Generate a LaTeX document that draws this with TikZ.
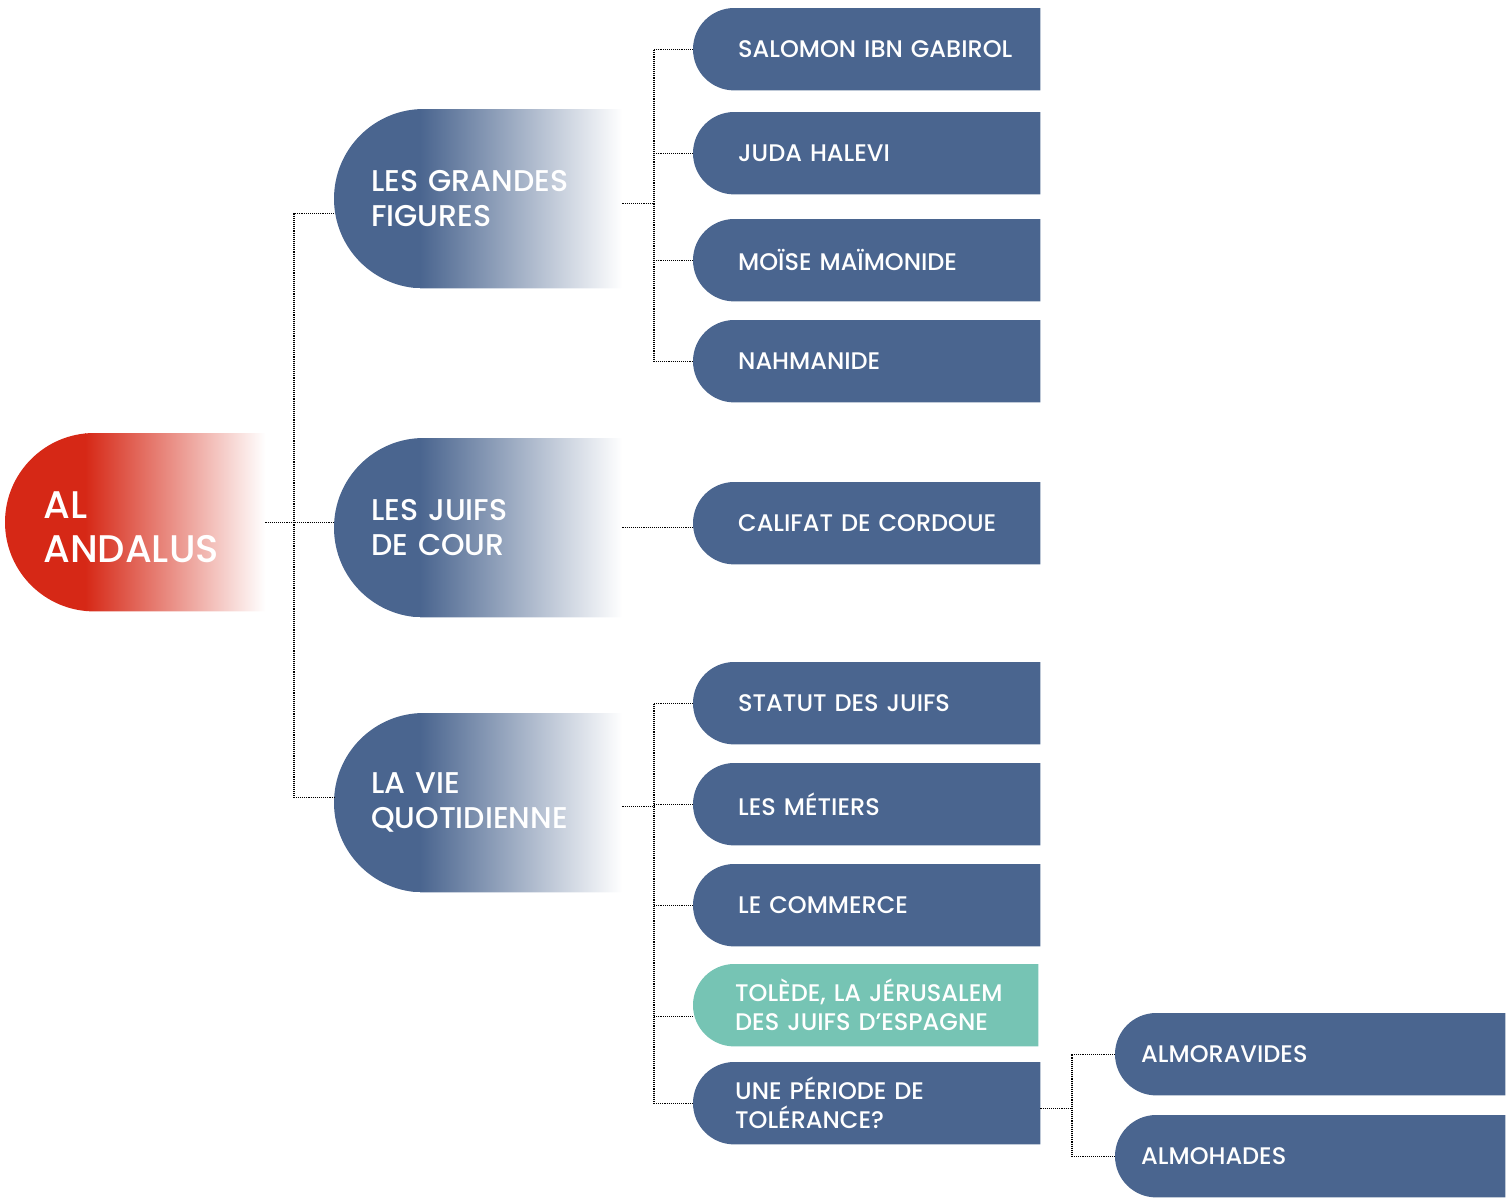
\documentclass[tikz,border=0pt]{standalone}
\usepackage{fontspec}
\setmainfont{Poppins}[UprightFont={* Medium}]
\usetikzlibrary{calc}
\definecolor{nodeblue}{RGB}{74,101,143}
\definecolor{nodeteal}{RGB}{118,196,180}
\definecolor{rootred}{RGB}{214,40,22}
\makeatletter
\pgfdeclareshape{halfpill}{%
  \inheritsavedanchors[from=rectangle]%
  \inheritanchorborder[from=rectangle]%
  \inheritanchor[from=rectangle]{center}%
  \inheritanchor[from=rectangle]{text}%
  \inheritanchor[from=rectangle]{mid}%
  \inheritanchor[from=rectangle]{base}%
  \inheritanchor[from=rectangle]{north}%
  \inheritanchor[from=rectangle]{south}%
  \inheritanchor[from=rectangle]{east}%
  \inheritanchor[from=rectangle]{west}%
  \inheritanchor[from=rectangle]{north east}%
  \inheritanchor[from=rectangle]{north west}%
  \inheritanchor[from=rectangle]{south east}%
  \inheritanchor[from=rectangle]{south west}%
  \backgroundpath{%
    \southwest \pgf@xa=\pgf@x \pgf@ya=\pgf@y
    \northeast \pgf@xb=\pgf@x \pgf@yb=\pgf@y
    \pgf@xc=\pgf@yb \advance\pgf@xc by -\pgf@ya \pgf@xc=0.5\pgf@xc
    \edef\hpR{\the\pgf@xc}%
    \edef\hpXa{\the\pgf@xa}\edef\hpYa{\the\pgf@ya}%
    \edef\hpXb{\the\pgf@xb}\edef\hpYb{\the\pgf@yb}%
    \pgfpathmoveto{\pgfpoint{\hpXb}{\hpYb}}%
    \pgfpathlineto{\pgfpoint{\hpXb}{\hpYa}}%
    \pgfpathlineto{\pgfpoint{\hpXa+\hpR}{\hpYa}}%
    \pgfpatharc{270}{90}{\hpR}%
    \pgfpathclose
  }%
}
\makeatother
\tikzset{
  pillbase/.style={shape=halfpill, inner sep=0pt, anchor=north west, align=left, text=white},
  leaf/.style={pillbase, fill=nodeblue, minimum width=347pt, minimum height=82pt,
    text width=347pt, font=\fontsize{24}{29}\selectfont,
    execute at begin node={\leftskip=45pt\relax}},
  leaftwo/.style={leaf, execute at begin node={\leftskip=42pt\relax}},
  almo/.style={pillbase, fill=nodeblue, minimum width=390pt, minimum height=82pt,
    text width=390pt, font=\fontsize{24}{29}\selectfont,
    execute at begin node={\leftskip=26pt\relax}},
  fadefill/.style 2 args={path picture={
      \fill[#1] (path picture bounding box.south west) rectangle ([xshift=#2+1pt]path picture bounding box.north west);
      \shade[left color=#1, right color=white] ([xshift=#2]path picture bounding box.south west) rectangle (path picture bounding box.north east);}},
  cat/.style={pillbase, minimum width=288pt, minimum height=179pt, text width=288pt,
    font=\fontsize{30}{35}\selectfont, fadefill={nodeblue}{86pt},
    execute at begin node={\leftskip=37pt\relax}},
  rootnode/.style={pillbase, minimum width=260pt, minimum height=178pt, text width=260pt,
    text height=37pt,
    font=\fontsize{38.5}{44}\selectfont, fadefill={rootred}{80pt},
    execute at begin node={\leftskip=38pt\relax}},
  conn/.style={draw=black, line width=1.1pt, dash pattern=on 1.1pt off 1pt}
}
\begin{document}
\begin{tikzpicture}[x=1pt,y=-1pt]
\useasboundingbox (0,0) rectangle (1509,1197);
% root
\node[rootnode] (root) at (5,433) {AL\\ANDALUS};
% categories
\node[cat] (grandes) at (334,109) {LES GRANDES\\FIGURES};
\node[cat] (juifs) at (334,438) {LES JUIFS\\DE COUR};
\node[cat] (vie) at (334,713) {LA VIE\\QUOTIDIENNE};
% leaves
\node[leaf] (sal) at (693,8) {SALOMON IBN GABIROL};
\node[leaf] (juda) at (693,112) {JUDA HALEVI};
\node[leaf] (moise) at (693,219) {MOÏSE MAÏMONIDE};
\node[leaf] (nah) at (693,320) {NAHMANIDE};
\node[leaf] (calif) at (693,482) {CALIFAT DE CORDOUE};
\node[leaf] (statut) at (693,662) {STATUT DES JUIFS};
\node[leaf] (metiers) at (693,763) {LES MÉTIERS};
\node[leaf] (commerce) at (693,864) {LE COMMERCE};
\node[leaftwo, fill=nodeteal, minimum width=345pt, text width=345pt] (tolede) at (693,964) {TOLÈDE, LA JÉRUSALEM\\DES JUIFS D’ESPAGNE};
\node[leaftwo] (tol) at (693,1062) {UNE PÉRIODE DE\\TOLÉRANCE?};
\node[almo] (almor) at (1115,1013) {ALMORAVIDES};
\node[almo] (almoh) at (1115,1115) {ALMOHADES};
% trunk coordinates
\coordinate (t0) at ([xshift=-40pt,yshift=-15pt]grandes.west);
\coordinate (t1) at ([xshift=-39pt]sal.west);
\coordinate (t2) at ([xshift=-39pt]statut.west);
\coordinate (t3) at ([xshift=-43pt]almor.west);
% connectors
\draw[conn] (root.east) -- (root.east -| juifs.west);
\draw[conn] ([yshift=-15pt]grandes.west) -- (t0) |- ([yshift=5pt]vie.west);
\draw[conn] ([yshift=-5pt]grandes.east) -- ([yshift=-5pt]grandes.east -| t1);
\draw[conn] (sal.west) -- (t1) |- (nah.west);
\draw[conn] (juda.west) -- (juda.west -| t1);
\draw[conn] (moise.west) -- (moise.west -| t1);
\draw[conn] (juifs.east) -- (juifs.east -| calif.west);
\draw[conn] ([yshift=-4pt]vie.east) -- ([yshift=-4pt]vie.east -| t2);
\draw[conn] (statut.west) -- (t2) |- (tol.west);
\draw[conn] (metiers.west) -- (metiers.west -| t2);
\draw[conn] (commerce.west) -- (commerce.west -| t2);
\draw[conn] ([yshift=-11pt]tolede.west) -- ([yshift=-11pt]tolede.west -| t2);
\draw[conn] ([yshift=-5pt]tol.east) -- ([yshift=-5pt]tol.east -| t3);
\draw[conn] (almor.west) -- (t3) |- (almoh.west);
\end{tikzpicture}
\end{document}
